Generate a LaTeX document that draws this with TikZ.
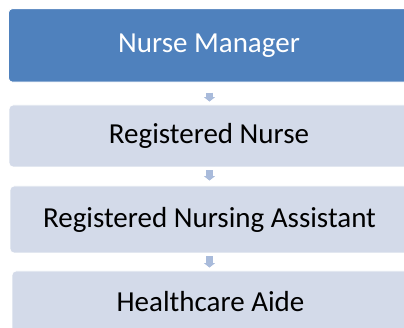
\documentclass[tikz,border=0pt]{standalone}
\usepackage{fontspec}
\setmainfont{Carlito}
\usepackage{tikz}
\usetikzlibrary{arrows.meta}
\usetikzlibrary{calc}
\usetikzlibrary{positioning}
\definecolor{mgrblue}{HTML}{4F81BD}
\definecolor{tierfill}{HTML}{D3DAE9}
\definecolor{flowblue}{HTML}{A9BBDB}

\begin{document}
\begin{tikzpicture}[x=1pt,y=-1pt,
  every node/.style={rounded corners=4pt,inner sep=0pt,align=center,
    font=\fontsize{29}{34}\selectfont},
  tier/.style={draw=white,line width=0.8pt,fill=tierfill,text=black},
  top/.style={draw=white,line width=0.8pt,fill=mgrblue,text=white},
  flow/.style={flowblue,line width=6.5pt,-{Triangle[width=11pt,length=4.5pt]}}]

  \useasboundingbox (0,0) rectangle (404,328);
  \clip (0,0) rectangle (404,328);

  \draw node[top,minimum width=401pt,minimum height=73.5pt] at (209,45.4) (nm) {Nurse Manager};
  \draw node[tier,minimum width=400pt,minimum height=62pt] at (209,136) (rn) {Registered Nurse};
  \draw node[tier,minimum width=399pt,minimum height=67pt] at (209.5,219.5) (rna) {Registered Nursing Assistant};
  \draw node[tier,minimum width=397pt,minimum height=62pt] at (210.5,302) (hca) {Healthcare Aide};

  % arrows between the tiers
  \draw[flow,shorten <=10pt,shorten >=3pt] (nm.south -| 209.5,0) -- (rn.north -| 209.5,0);
  \draw[flow,shorten <=3pt,shorten >=5pt] (rn.south -| 209.5,0) -- (rna.north -| 209.5,0);
  \draw[flow,shorten <=3pt,shorten >=3pt] (rna.south -| 209.5,0) -- (hca.north -| 209.5,0);

\end{tikzpicture}
\end{document}
